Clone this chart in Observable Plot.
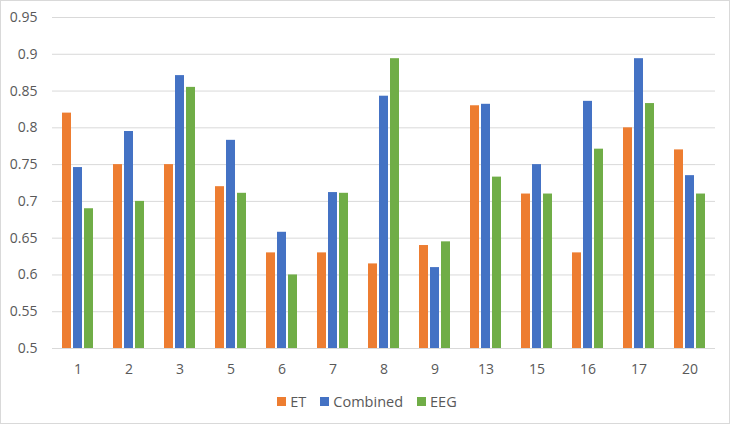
<!DOCTYPE html>
<html>
<head>
<meta charset="utf-8">
<script src="https://cdn.jsdelivr.net/npm/d3@7"></script>
<script src="https://cdn.jsdelivr.net/npm/@observablehq/plot@0.6"></script>
<style>
  html, body { margin: 0; padding: 0; background: white; }
  #wrap { width: 728px; height: 422px; border: 1px solid #d9d9d9; background: white; font-family: "Open Sans", sans-serif; color: #595959; }
  #legend { display: flex; justify-content: center; align-items: center; height: 34px; font-size: 14.5px; padding-left: 4px; }
  .item { display: flex; align-items: center; margin: 0 7px; }
  .sw { width: 9px; height: 9px; margin-right: 4px; }
</style>
</head>
<body>
<div id="wrap"><div id="chart"></div><div id="legend"></div></div>
<script>
const categories = ["1","2","3","5","6","7","8","9","13","15","16","17","20"];
const et       = [0.82, 0.75, 0.75, 0.72, 0.63, 0.63, 0.615, 0.64, 0.83, 0.71, 0.63, 0.80, 0.77];
const combined = [0.746, 0.795, 0.871, 0.783, 0.658, 0.712, 0.843, 0.61, 0.832, 0.75, 0.836, 0.894, 0.735];
const eeg      = [0.69, 0.70, 0.855, 0.711, 0.60, 0.711, 0.894, 0.645, 0.733, 0.71, 0.771, 0.833, 0.71];
const seriesNames = ["ET", "Combined", "EEG"];
const colors = ["#ED7D31", "#4472C4", "#70AD47"];
const yTicks = [0.5, 0.55, 0.6, 0.65, 0.7, 0.75, 0.8, 0.85, 0.9, 0.95];

const rows = categories.map((c, i) => ({cat: c, et: et[i], combined: combined[i], eeg: eeg[i]}));
const keys = ["et", "combined", "eeg"];
const insets = [[10, 32], [21, 21], [32, 10]];

const chart = Plot.plot({
  width: 728,
  height: 383,
  marginLeft: 51,
  marginRight: 14,
  marginTop: 16,
  marginBottom: 36,
  style: {fontFamily: "Open Sans", fontSize: "14px", color: "#595959", background: "white"},
  x: {domain: categories, padding: 0, label: null, tickSize: 0, tickPadding: 16},
  y: {domain: [0.5, 0.95], ticks: yTicks, tickFormat: d => String(+d.toFixed(2)), tickSize: 0, tickPadding: 15, label: null},
  marks: [
    Plot.ruleY(yTicks, {stroke: "#d9d9d9", strokeWidth: 1}),
    ...keys.map((k, j) => Plot.barY(rows, {x: "cat", y1: 0.5, y2: k, fill: colors[j], insetLeft: insets[j][0], insetRight: insets[j][1]}))
  ]
});
document.getElementById("chart").appendChild(chart);

const legend = document.getElementById("legend");
seriesNames.forEach((n, j) => {
  const it = document.createElement("div");
  it.className = "item";
  it.innerHTML = `<div class="sw" style="background:${colors[j]}"></div><span>${n}</span>`;
  legend.appendChild(it);
});
</script>
</body>
</html>
